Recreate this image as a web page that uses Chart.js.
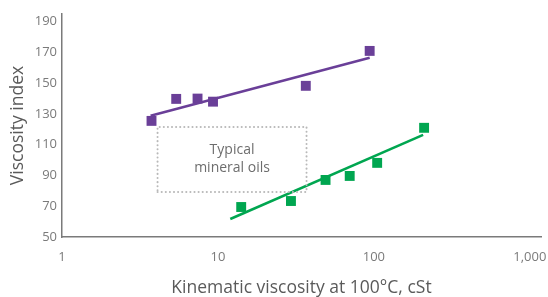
<!DOCTYPE html>
<html>
<head>
<meta charset="utf-8">
<script src="https://cdn.jsdelivr.net/npm/chart.js@4.4.1/dist/chart.umd.min.js"></script>
<style>
  html, body { margin: 0; padding: 0; background: #fff; }
  #wrap { width: 548px; height: 297px; position: relative; }
</style>
</head>
<body>
<div id="wrap"><canvas id="c" width="548" height="297"></canvas></div>
<script>
// Synthetic (PAO-type) oils – purple
const purpleX = [3.75, 5.4, 7.4, 9.3, 36.6, 94];
const purpleY = [125.5, 139.8, 140, 138, 148.3, 171];
const purpleFitX = [3.7, 94];
const purpleFitY = [128.8, 166.5];

// Second series – green
const greenX = [14.1, 29.4, 49, 70, 105, 210];
const greenY = [69.5, 73.4, 87.1, 89.7, 98.2, 121];
const greenFitX = [12, 207];
const greenFitY = [61.7, 116.4];

// "Typical mineral oils" region
const boxX = [4.1, 37];
const boxY = [79.3, 121.6];
const boxLabel = ["Typical", "mineral oils"];

const xTicks = [1, 10, 100, 1000];
const yTicks = [50, 70, 90, 110, 130, 150, 170, 190];

const xTitle = "Kinematic viscosity at 100°C, cSt";
const yTitle = "Viscosity index";

const PURPLE = "#6a3f98";
const GREEN = "#00a650";
const FONT = "'Open Sans', 'Noto Sans', sans-serif";

const pts = (xs, ys) => xs.map((x, i) => ({ x: x, y: ys[i] }));
const boxPts = [
  { x: boxX[0], y: boxY[0] }, { x: boxX[1], y: boxY[0] },
  { x: boxX[1], y: boxY[1] }, { x: boxX[0], y: boxY[1] },
  { x: boxX[0], y: boxY[0] }
];

const boxText = {
  id: 'boxText',
  afterDatasetsDraw(chart) {
    const { ctx, scales: { x, y } } = chart;
    const cx = x.getPixelForValue(Math.sqrt(boxX[0] * boxX[1]));
    const cy = y.getPixelForValue((boxY[0] + boxY[1]) / 2);
    ctx.save();
    ctx.fillStyle = "#6d6d6d";
    ctx.font = "14px " + FONT;
    ctx.textAlign = "center";
    ctx.textBaseline = "middle";
    ctx.fillText(boxLabel[0], cx, cy - 9);
    ctx.fillText(boxLabel[1], cx, cy + 9);
    ctx.restore();
  }
};

new Chart(document.getElementById('c'), {
  type: 'scatter',
  data: {
    datasets: [
      { data: boxPts, showLine: true, borderColor: '#b9b9b9', borderWidth: 2,
        borderDash: [0.1, 4], borderCapStyle: 'round', pointRadius: 0, fill: false, tension: 0 },
      { data: pts(purpleFitX, purpleFitY), showLine: true, borderColor: PURPLE, borderWidth: 2.5, pointRadius: 0 },
      { data: pts(greenFitX, greenFitY), showLine: true, borderColor: GREEN, borderWidth: 2.5, pointRadius: 0 },
      { data: pts(purpleX, purpleY), pointStyle: 'rect', pointRadius: 7, pointBorderWidth: 0,
        backgroundColor: PURPLE, borderColor: PURPLE },
      { data: pts(greenX, greenY), pointStyle: 'rect', pointRadius: 7, pointBorderWidth: 0,
        backgroundColor: GREEN, borderColor: GREEN }
    ]
  },
  options: {
    responsive: false,
    animation: false,
    layout: { padding: { top: 14, right: 2, left: 0, bottom: 0 } },
    plugins: { legend: { display: false }, tooltip: { enabled: false } },
    scales: {
      x: {
        type: 'logarithmic',
        min: 1, max: 1180,
        afterBuildTicks(s) { s.ticks = xTicks.map(v => ({ value: v })); },
        afterFit(s) { s.height = 60; s.paddingLeft = 0; s.paddingRight = 0; },
        grid: { display: false, drawTicks: false },
        border: { display: true, color: '#7a7a7a', width: 1.5 },
        ticks: {
          color: '#7a7a7a', padding: 12, maxRotation: 0, autoSkip: false,
          font: { family: FONT, size: 13 },
          callback: v => v.toLocaleString('en-US')
        },
        title: { display: true, text: xTitle, color: '#5a5a5a',
          font: { family: FONT, size: 17.5, lineHeight: 1.0 }, padding: 0 }
      },
      y: {
        min: 50, max: 195,
        afterBuildTicks(s) { s.ticks = yTicks.map(v => ({ value: v })); },
        afterFit(s) { s.width = 62; s.paddingTop = 0; s.paddingBottom = 0; },
        grid: { display: false, drawTicks: false },
        border: { display: true, color: '#7a7a7a', width: 1.5 },
        ticks: { color: '#7a7a7a', padding: 5, font: { family: FONT, size: 13 } },
        title: { display: true, text: yTitle, color: '#5a5a5a',
          font: { family: FONT, size: 17.5, lineHeight: 1.0 }, padding: { top: 9, bottom: 0 } }
      }
    }
  },
  plugins: [boxText]
});
</script>
</body>
</html>
